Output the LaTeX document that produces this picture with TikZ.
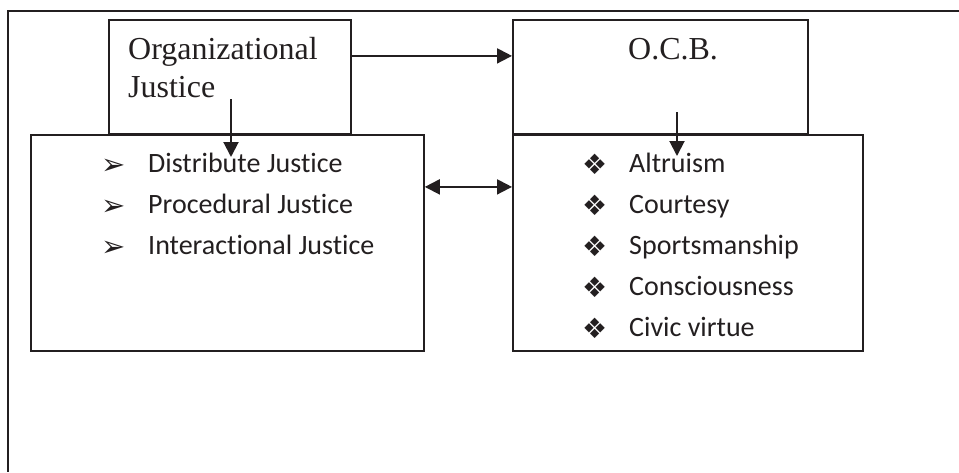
\documentclass[tikz,border=0pt]{standalone}
\usepackage{fontspec}
\setmainfont{Liberation Serif}
\newfontfamily\listfont[Ligatures=NoCommon]{Carlito}
\newfontfamily\symfont{DejaVu Sans}
\usetikzlibrary{arrows.meta}
\definecolor{ink}{HTML}{231F20}
\tikzset{
  box/.style={draw=ink, line width=1.8pt, inner sep=0pt, anchor=north west},
  link/.style={draw=ink, line width=2pt, -{Triangle[length=15pt,width=15pt]}},
  title/.style={anchor=base west, inner sep=0pt, text=ink, align=left,
    font=\fontsize{32}{38}\selectfont},
  item/.style={anchor=base west, inner sep=0pt, text=ink,
    font=\listfont\fontsize{28}{34}\selectfont},
  arrowbullet/.style={anchor=base west, inner sep=0pt, text=ink,
    font=\symfont\fontsize{29}{34}\selectfont},
  starbullet/.style={anchor=base west, inner sep=0pt, text=ink,
    font=\symfont\fontsize{28}{34}\selectfont},
}
\begin{document}
\begin{tikzpicture}[x=1pt,y=-1pt]
\useasboundingbox (0,0) rectangle (959,472);
\draw[ink, line width=1.8pt] (959,11) -- (8,11) -- (8,472);

\node[box, minimum width=242pt, minimum height=114pt] (orgj) at (108,19) {};
\node[box, minimum width=295pt, minimum height=114pt] (ocb) at (512,19) {};
\node[box, minimum width=393pt, minimum height=216pt] (jlist) at (30,134) {};
\node[box, minimum width=350pt, minimum height=216pt] (blist) at (512,134) {};

\node[title] (orgjtext) at (128,97) {Organizational\\Justice};
\node[title] (ocbtext) at (628,59) {O.C.B.};

\foreach \t [count=\i] in {Distribute Justice, Procedural Justice, Interactional Justice} {
  \node[arrowbullet] (jb\i) at (101,133+41*\i) {➢};
  \node[item] (j\i) at (148,131+41*\i) {\t};
}
\foreach \t [count=\i] in {Altruism, Courtesy, Sportsmanship, Consciousness, Civic virtue} {
  \node[starbullet] (bb\i) at (582,133+41*\i) {❖};
  \node[item] (b\i) at (629,131+41*\i) {\t};
}

\coordinate (jfrom) at (231,99);
\coordinate (jto) at (231,157);
\coordinate (bfrom) at (677,112);
\coordinate (bto) at (677,156);

\draw[link] ([yshift=21pt]orgj.east) -- ([yshift=21pt]ocb.west);
\draw[link, {Triangle[length=15pt,width=15pt]}-{Triangle[length=15pt,width=15pt]}] ([yshift=56pt]jlist.east) -- ([yshift=56pt]blist.west);
\draw[link] (jfrom) -- (jto);
\draw[link] (bfrom) -- (bto);
\end{tikzpicture}
\end{document}
